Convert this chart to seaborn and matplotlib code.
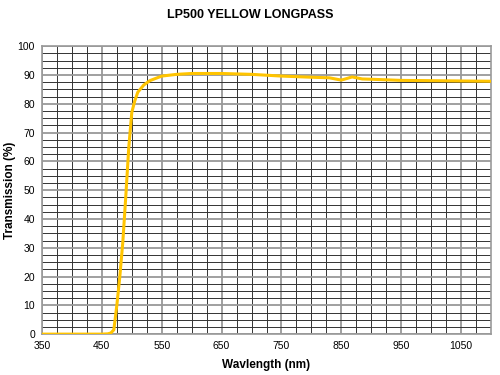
import numpy as np
import pandas as pd
import seaborn as sns
import matplotlib
matplotlib.use("Agg")
import matplotlib.pyplot as plt
from matplotlib.ticker import MultipleLocator

# values
wavelength = [350, 400, 450, 460, 465, 470, 475, 480, 485, 490, 495, 500, 505, 510,
              520, 530, 550, 575, 600, 650, 700, 750, 800, 830, 850, 868, 885,
              900, 950, 1000, 1050, 1100]
transmission = [0, 0, 0, 0.1, 0.4, 1.5, 10, 20, 32, 48, 65, 77, 81, 84,
                86.5, 88, 89.6, 90.2, 90.5, 90.5, 90.2, 89.6, 89.2, 89.0, 88.2, 89.3, 88.6,
                88.5, 88.1, 88.0, 87.9, 87.8]

df = pd.DataFrame({"wavelength": wavelength, "transmission": transmission})

sns.set_style("white", {"text.color": "black", "axes.labelcolor": "black",
                        "xtick.color": "black", "ytick.color": "black"})
plt.rcParams["font.family"] = ["Liberation Sans", "DejaVu Sans"]

fig = plt.figure(figsize=(5, 3.75), dpi=100)
ax = fig.add_axes([0.084, 0.109, 0.898, 0.768])

sns.lineplot(ax=ax, x="wavelength", y="transmission", data=df, color="#FFC400", linewidth=2.2, zorder=5)

ax.set_xlim(350, 1100)
ax.set_ylim(0, 100)
ax.set_xticks(np.arange(350, 1100, 100))
ax.xaxis.set_minor_locator(MultipleLocator(25))
ax.yaxis.set_major_locator(MultipleLocator(10))
ax.yaxis.set_minor_locator(MultipleLocator(2.5))
ax.grid(which="minor", color="#333333", linewidth=0.7)
ax.grid(which="major", color="#999999", linewidth=1.3)
ax.set_axisbelow(True)

ax.tick_params(axis="both", which="major", labelsize=7.5, length=3, color="#888888",
               labelcolor="black", pad=2)
ax.tick_params(axis="both", which="minor", length=0)
for s in ax.spines.values():
    s.set_color("#999999")
    s.set_linewidth(1.2)

ax.set_xlabel("Wavlength (nm)", fontsize=8.5, fontweight="bold", labelpad=6, color="black")
ax.set_ylabel("Transmission (%)", fontsize=8.5, fontweight="bold", color="black")
ax.yaxis.set_label_coords(-0.058, 0.5)
fig.suptitle("LP500 YELLOW LONGPASS", fontsize=9, fontweight="bold", y=0.975, color="black")

plt.savefig("out.png", dpi=100)
